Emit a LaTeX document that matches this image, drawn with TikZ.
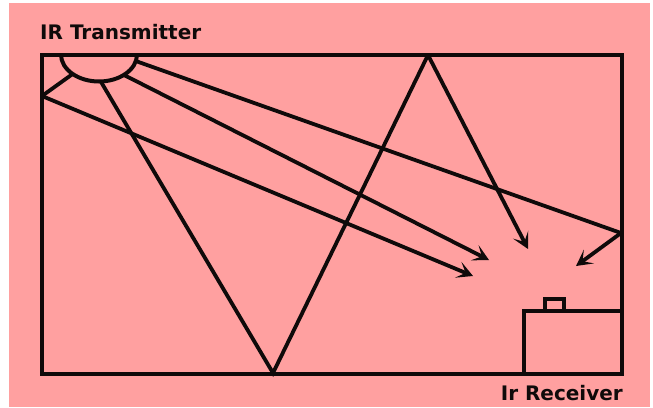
\documentclass[tikz,border=0pt]{standalone}
\usepackage{fontspec}
\setmainfont{DejaVu Sans}
\usetikzlibrary{arrows.meta}
\definecolor{bgpink}{RGB}{255,160,160}
\definecolor{ink}{RGB}{15,10,10}
\tikzset{
  wall/.style={draw=ink, line width=4pt, line join=miter},
  ray/.style={draw=ink, line width=3.8pt, line join=miter},
  rayarrow/.style={ray, -{Stealth[length=16pt,width=17pt,inset=8pt]}},
  label/.style={inner sep=0pt, text=ink, font=\fontsize{20pt}{22pt}\selectfont\bfseries}
}
\begin{document}
\begin{tikzpicture}[x=1pt,y=-1pt]
\useasboundingbox (0,0) rectangle (653,407);
\fill[white] (0,0) rectangle (653,407);
\fill[bgpink] (9,3) rectangle (650,407);
% room
\draw[wall] (41.5,54.5) rectangle (621.5,373.5);
% transmitter
\draw[wall] (61,54.5) arc[start angle=180, end angle=0, x radius=38, y radius=27];
% receiver
\draw[wall] (523.5,373.5) |- (621.5,310.5);
\draw[wall] (545,310.5) rectangle (564,299);
% coordinates of rays
\coordinate (s1) at (72.6,74);
\coordinate (s2) at (100.5,81);
\coordinate (s3) at (124,75);
\coordinate (s4) at (135.7,61);
\coordinate (w1) at (42,96);
\coordinate (b2) at (273,373);
\coordinate (t2) at (428,55);
\coordinate (r4) at (621,233);
\coordinate (e1) at (473,276);
\coordinate (e2) at (528,249);
\coordinate (e3) at (489,260);
\coordinate (e4) at (576,266);
\draw[ray] (s1) -- (w1);
\draw[rayarrow] (w1) -- (e1);
\draw[ray] (s2) -- (b2) -- (t2);
\draw[rayarrow] (t2) -- (e2);
\draw[rayarrow] (s3) -- (e3);
\draw[ray] (s4) -- (r4);
\draw[rayarrow] (r4) -- (e4);
% labels
\node[label, anchor=base west] (tlabel) at (40,39.5) {IR Transmitter};
\node[label, anchor=base east] (rlabel) at (623,400) {Ir Receiver};
\end{tikzpicture}
\end{document}
